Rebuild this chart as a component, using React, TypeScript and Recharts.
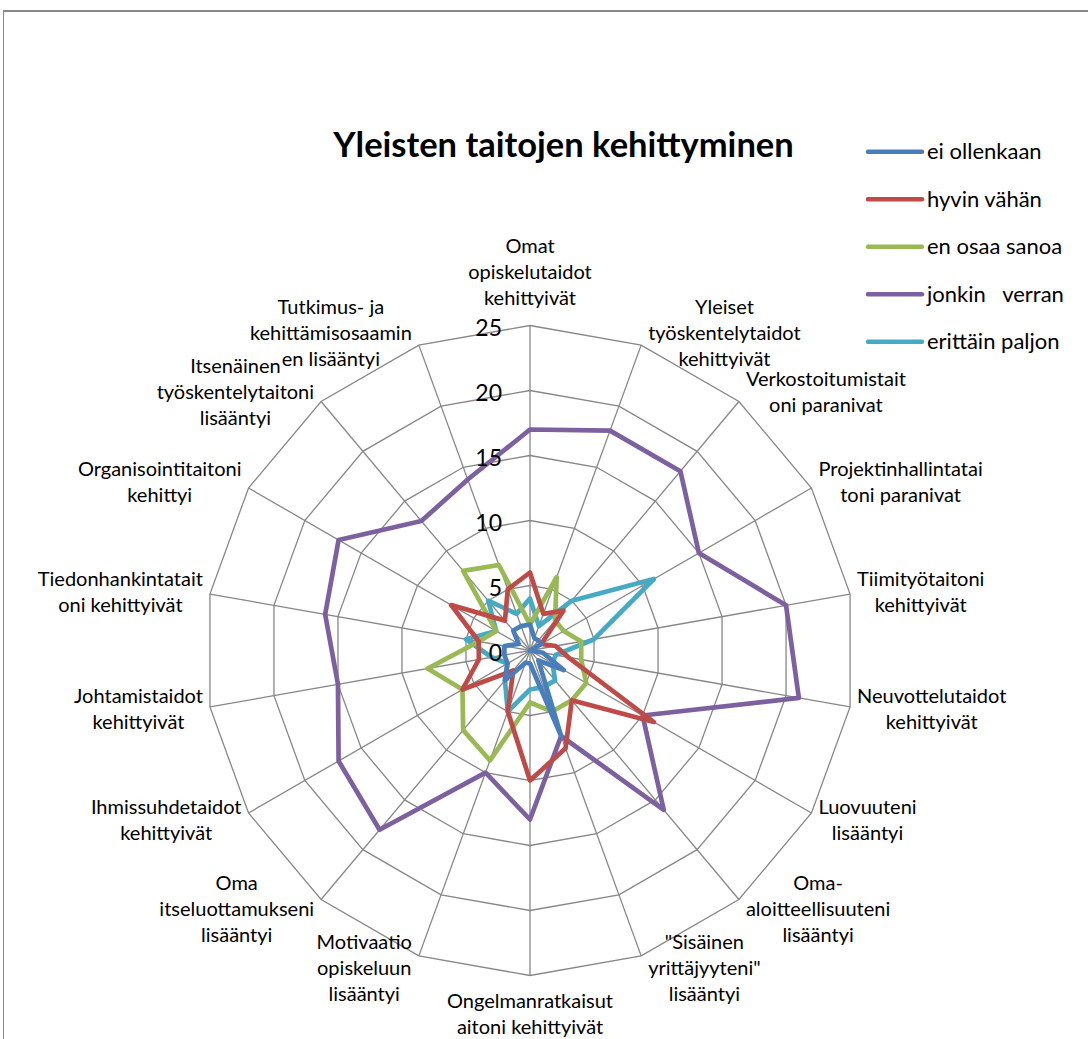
import React from 'react';
import { RadarChart, Radar, PolarGrid, PolarAngleAxis, PolarRadiusAxis, Legend } from 'recharts';

// ---------- data ----------
const categories: string[] = [
  'Omat\nopiskelutaidot\nkehittyivät',
  'Yleiset\ntyöskentelytaidot\nkehittyivät',
  'Verkostoitumistait\noni paranivat',
  'Projektinhallintatai\ntoni paranivat',
  'Tiimityötaitoni\nkehittyivät',
  'Neuvottelutaidot\nkehittyivät',
  'Luovuuteni\nlisääntyi',
  'Oma-\naloitteellisuuteni\nlisääntyi',
  '"Sisäinen\nyrittäjyyteni"\nlisääntyi',
  'Ongelmanratkaisut\naitoni kehittyivät',
  'Motivaatio\nopiskeluun\nlisääntyi',
  'Oma\nitseluottamukseni\nlisääntyi',
  'Ihmissuhdetaidot\nkehittyivät',
  'Johtamistaidot\nkehittyivät',
  'Tiedonhankintatait\noni kehittyivät',
  'Organisointitaitoni\nkehittyi',
  'Itsenäinen\ntyöskentelytaitoni\nlisääntyi',
  'Tutkimus- ja\nkehittämisosaamin\nen lisääntyi',
];

const eiOllenkaan: number[] = [2, 1, 1, 1, 0, 1, 3, 1, 7, 1, 1, 3, 2, 2, 2, 1, 2, 2];
const hyvinVahan: number[] = [6, 3, 4, 1, 2, 3, 11, 5, 8, 10, 5, 2, 6, 4, 4, 7, 3, 5];
const enOsaaSanoa: number[] = [2, 6, 3, 3, 4, 4, 5, 5, 5, 4, 9, 8, 6, 8, 4, 3, 8, 7];
const jonkinVerran: number[] = [17, 18, 18, 15, 20, 21, 10, 16, 7, 13, 10, 18, 17, 15, 16, 17, 13, 14];
const erittainPaljon: number[] = [4, 2, 5, 11, 5, 2, 2, 3, 3, 3, 5, 3, 2, 3, 5, 3, 5, 3];

const radiusTicks: number[] = [0, 5, 10, 15, 20, 25];

const title = 'Yleisten taitojen kehittyminen';

const series = [
  { key: 'a', name: 'ei ollenkaan', color: '#4A7EBB', values: eiOllenkaan },
  { key: 'b', name: 'hyvin vähän', color: '#BE4B48', values: hyvinVahan },
  { key: 'c', name: 'en osaa sanoa', color: '#98B954', values: enOsaaSanoa },
  { key: 'd', name: 'jonkin   verran', color: '#7D60A0', values: jonkinVerran },
  { key: 'e', name: 'erittäin paljon', color: '#46AAC5', values: erittainPaljon },
];

const data = categories.map((name, i) => {
  const row: Record<string, any> = { name };
  series.forEach((s) => {
    row[s.key] = s.values[i];
  });
  return row;
});

// ---------- layout ----------
const W = 1088;
const H = 1039;
const CX = 530;
const CY = 650.5;
const R = 325;
const FONT = 'Lato, Carlito, "Liberation Sans", sans-serif';
const LABEL_SIZE = 20;
const LINE_H = 26;

let measureCtx: CanvasRenderingContext2D | null = null;
function measure(text: string, font: string): number {
  if (!measureCtx) {
    const c = document.createElement('canvas');
    measureCtx = c.getContext('2d');
  }
  if (!measureCtx) return text.length * 9;
  measureCtx.font = font;
  return measureCtx.measureText(text).width;
}

const AngleTick = (props: any) => {
  const { payload } = props;
  const value: string = payload?.value ?? '';
  let i: number = props.index;
  if (typeof i !== 'number') i = categories.indexOf(value);
  const theta = (i * 2 * Math.PI) / categories.length;
  const s = Math.sin(theta);
  const c = Math.cos(theta);
  const vx = CX + R * s;
  const vy = CY - R * c;
  const lines = value.split('\n');
  const w = Math.max(...lines.map((l) => measure(l, `${LABEL_SIZE}px Lato`)));
  const h = lines.length * LINE_H;
  let bx: number;
  let by: number;
  if (Math.abs(s) < 0.01) {
    bx = vx;
    by = c > 0 ? vy - 15 - h / 2 : vy + 12 + h / 2;
  } else {
    bx = vx + Math.sign(s) * (7 + w / 2);
    by = vy - 13 * c;
  }
  return (
    <text fontFamily={FONT} fontSize={LABEL_SIZE} fill="#000" textAnchor="middle">
      {lines.map((l, k) => (
        <tspan key={k} x={bx} y={by - h / 2 + LINE_H * (k + 0.5)} dy="0.35em">
          {l}
        </tspan>
      ))}
    </text>
  );
};

const RadiusTick = (props: any) => {
  const { x, y, payload } = props;
  return (
    <text x={x - 28} y={y + 2} dy="0.35em" textAnchor="end" fontFamily={FONT} fontSize={23} fill="#000">
      {payload.value}
    </text>
  );
};

const LegendContent = () => (
  <svg width={222} height={240} style={{ display: 'block' }}>
    {series.map((s, k) => {
      const y = 21.7 + k * 47.5;
      return (
        <g key={s.key}>
          <line x1={2} y1={y} x2={56} y2={y} stroke={s.color} strokeWidth={4.5} strokeLinecap="round" />
          <text x={61} y={y} dy="0.35em" fontFamily={FONT} fontSize={22} fill="#000" style={{ whiteSpace: 'pre' }}>
            {s.name}
          </text>
        </g>
      );
    })}
  </svg>
);

export default function App() {
  const drawOrder = [...series].reverse();
  return (
    <div style={{ position: 'absolute', left: 0, top: 0, width: W, height: H, background: '#fff', overflow: 'hidden' }}>
      <div
        style={{
          position: 'absolute',
          left: 3,
          top: 10,
          width: W + 20,
          height: H + 20,
          borderTop: '2px solid #898989',
          borderLeft: '1.5px solid #898989',
          boxSizing: 'border-box',
        }}
      />
      <div
        style={{
          position: 'absolute',
          left: 300,
          top: 120,
          width: 527,
          textAlign: 'center',
          fontFamily: FONT,
          fontWeight: 700,
          fontSize: 34.5,
          lineHeight: '48px',
          color: '#000',
          whiteSpace: 'nowrap',
        }}
      >
        {title}
      </div>
      <div style={{ position: 'absolute', left: 0, top: 0 }}>
        <RadarChart
          width={W}
          height={H}
          data={data}
          cx={CX}
          cy={CY}
          outerRadius={R}
          margin={{ top: 0, right: 0, bottom: 0, left: 0 }}
        >
          <PolarGrid gridType="polygon" stroke="#878787" strokeWidth={1.3} />
          <PolarAngleAxis dataKey="name" tick={AngleTick} tickLine={false} axisLine={false} />
          {drawOrder.map((s) => (
            <Radar
              key={s.key}
              name={s.name}
              dataKey={s.key}
              stroke={s.color}
              strokeWidth={4.7}
              strokeLinejoin="round"
              fill="none"
              fillOpacity={0}
              dot={false}
              isAnimationActive={false}
            />
          ))}
          <PolarRadiusAxis
            angle={90}
            domain={[0, 25]}
            ticks={radiusTicks as any}
            tickCount={6}
            axisLine={false}
            tickLine={false}
            tick={RadiusTick}
          />
          <Legend
            content={LegendContent}
            wrapperStyle={{ position: 'absolute', left: 866, top: 130, width: 222, height: 240 }}
          />
        </RadarChart>
      </div>
    </div>
  );
}
